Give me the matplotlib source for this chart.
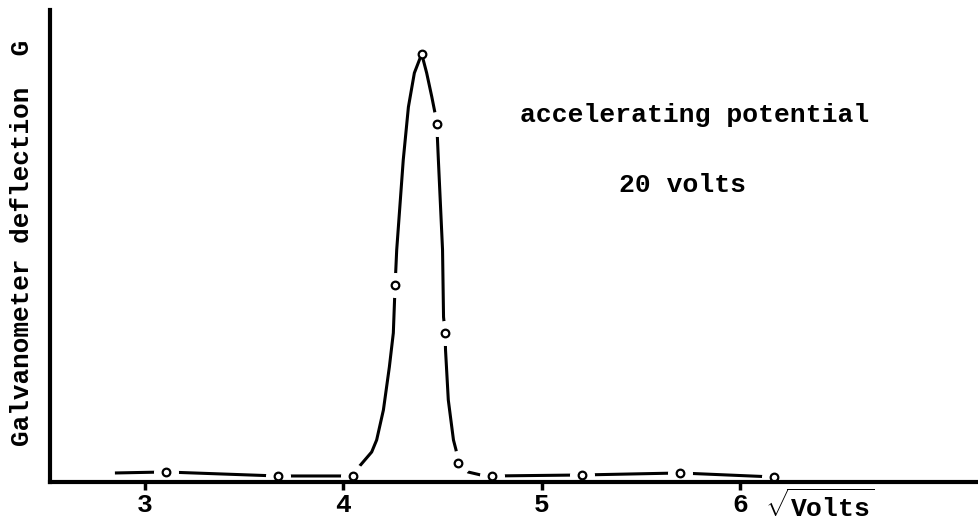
import numpy as np
import matplotlib
matplotlib.use('Agg')
import matplotlib.pyplot as plt

# measured points: sqrt(accelerating volts) vs galvanometer deflection
sqrt_volts = [3.105, 3.669, 4.047, 4.261, 4.395, 4.471, 4.513, 4.578, 4.750, 5.203, 5.697, 6.171]
deflection = [1.0, 0.6, 0.6, 19.7, 42.8, 35.8, 14.9, 1.9, 0.6, 0.7, 0.9, 0.5]

# hand-drawn curve through the points
curve_x = [2.849, 3.105, 3.669, 4.047, 4.074, 4.143, 4.168, 4.202, 4.232, 4.252,
           4.261, 4.269, 4.302, 4.328, 4.358, 4.395, 4.420, 4.446, 4.462, 4.471,
           4.479, 4.500, 4.505, 4.513, 4.515, 4.529, 4.555, 4.568, 4.578, 4.628,
           4.714, 4.750, 5.203, 5.697, 6.171]
curve_y = [0.9, 1.0, 0.6, 0.6, 1.4, 3.0, 4.2, 7.2, 11.5, 14.9,
           19.7, 23.2, 32.2, 37.5, 40.9, 42.8, 40.9, 38.5, 36.9, 35.8,
           32.2, 23.2, 16.5, 14.9, 13.2, 8.2, 4.2, 3.2, 1.9, 1.0,
           0.6, 0.6, 0.7, 0.9, 0.5]

x_ticks = [3, 4, 5, 6]

mono = 'Liberation Mono'
plt.rcParams['font.family'] = [mono, 'DejaVu Sans Mono']
plt.rcParams['font.weight'] = 'bold'
plt.rcParams['mathtext.fontset'] = 'custom'
plt.rcParams['mathtext.rm'] = mono + ':bold'
plt.rcParams['mathtext.bf'] = mono + ':bold'

fig = plt.figure(figsize=(9.79, 5.21), dpi=100)
ax = fig.add_axes([0.0511, 0.0749, 0.947, 0.906])

ax.plot(curve_x, curve_y, color='black', lw=2.2, solid_capstyle='butt', zorder=2.0)

# white gaps around the plotted circles (not at the peak), kept under the spines
peak = int(np.argmax(deflection))
gx = [v for i, v in enumerate(sqrt_volts) if i != peak]
gy = [v for i, v in enumerate(deflection) if i != peak]
ax.plot(gx, gy, 'o', ms=17, mfc='white', mec='white', zorder=2.1)
ax.plot(sqrt_volts, deflection, 'o', ms=5.5, mfc='white', mec='black', mew=1.6, zorder=2.2)

ax.set_xlim(2.522, 7.194)
ax.set_ylim(0, 47.2)
ax.spines['top'].set_visible(False)
ax.spines['right'].set_visible(False)
ax.spines['left'].set_linewidth(3)
ax.spines['bottom'].set_linewidth(3)
ax.spines['left'].set_zorder(3)
ax.spines['bottom'].set_zorder(3)
ax.set_yticks([])
ax.set_xticks(x_ticks)
ax.set_xticklabels([str(t) for t in x_ticks], fontsize=19, fontweight='bold')
ax.tick_params(axis='x', direction='out', length=6, width=2.5, pad=2)

fig.text(22 / 979, 1 - 243 / 521, 'Galvanometer deflection  G', rotation=90,
         ha='center', va='center', fontsize=18.7, fontweight='bold')

fig.text(695 / 979, 1 - 115 / 521, 'accelerating potential', ha='center', va='center',
         fontsize=19, fontweight='bold')
fig.text(683 / 979, 1 - 185 / 521, '20 volts', ha='center', va='center',
         fontsize=19, fontweight='bold')
fig.text(820 / 979, 1 - 506 / 521, r'$\sqrt{\mathbf{Volts}}$', ha='center', va='center',
         fontsize=19)

fig.savefig('out.png', dpi=100)
